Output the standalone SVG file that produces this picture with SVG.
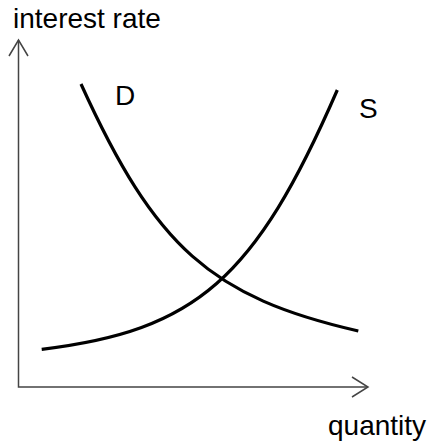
<svg xmlns="http://www.w3.org/2000/svg" width="431" height="445" viewBox="0 0 431 445">
<style>
.axis{fill:none;stroke:#444;stroke-width:1.5;stroke-linecap:butt;stroke-linejoin:miter}
.curve{fill:none;stroke:#000;stroke-width:3.2;stroke-linecap:butt}
.lbl{font-family:"Liberation Sans",Arial,sans-serif;font-size:28px;fill:#000}
</style>
<rect width="431" height="445" fill="#fff"/>
<g id="axes">
<polyline class="axis" points="18.5,40 18.5,387 368,387"/>
<polyline class="axis" points="9,56 18.5,40 28,56"/>
<polyline class="axis" points="352,377 368,387 352,397"/>
</g>
<g id="connectors">
<path id="D-curve" class="curve" d="M81,84 C155.4,247.7 210.9,297.1 358.3,331"/>
<path id="S-curve" class="curve" d="M41.7,349.3 C196.1,330.7 255.2,278.9 337.3,90"/>
</g>
<g id="label-y"><text class="lbl" x="13" y="28">interest rate</text></g>
<g id="label-x"><text class="lbl" x="328" y="435">quantity</text></g>
<g id="label-D"><text class="lbl" x="115" y="105">D</text></g>
<g id="label-S"><text class="lbl" x="359" y="118">S</text></g>
</svg>
